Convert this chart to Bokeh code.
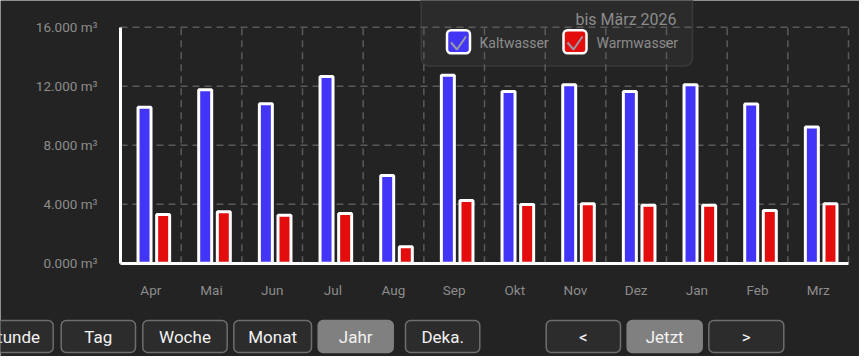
from bokeh.plotting import figure
from bokeh.models import Range1d, FixedTicker, ColumnDataSource
from bokeh.transform import dodge
from bokeh.core.properties import value
from bokeh.embed import file_html
from bokeh.resources import INLINE

# ---------------- data ----------------
months = ["Apr", "Mai", "Jun", "Jul", "Aug", "Sep", "Okt", "Nov", "Dez", "Jan", "Feb", "Mrz"]
kaltwasser = [10580, 11760, 10810, 12660, 5950, 12750, 11640, 12100, 11640, 12100, 10790, 9230]
warmwasser = [3300, 3490, 3250, 3370, 1110, 4250, 3980, 4030, 3930, 3930, 3570, 4030]
y_ticks = [0, 4000, 8000, 12000, 16000]
y_tick_labels = ["0.000 m³", "4.000 m³", "8.000 m³", "12.000 m³", "16.000 m³"]
series_names = ["Kaltwasser", "Warmwasser"]
legend_title = "bis März 2026"
buttons = ["Stunde", "Tag", "Woche", "Monat", "Jahr", "Deka.", "<", "Jetzt", ">"]
active_buttons = ["Jahr", "Jetzt"]

# ---------------- style / layout ----------------
BG = "#232323"
BLUE = "#4335f6"
RED = "#e30d0d"
GRID = "#5a5a5a"
LABEL = "#8c8c8c"
FONT = "Roboto"
W, H = 859, 356
N = len(months)
CAT_PX = 728 / N           # pixel width of one category
Y0_PX, Y16_PX = 262.7, 26.7  # pixel rows of 0 and 16000


def px_x(px):  # pixel column -> x data coordinate
    return (px - 120) / CAT_PX


def px_y(py):  # pixel row -> y data value
    return (Y0_PX - py) * y_ticks[-1] / (Y0_PX - Y16_PX)


x_pos = [i + 0.5 for i in range(N)]
src = ColumnDataSource(dict(x=x_pos, kalt=kaltwasser, warm=warmwasser))

p = figure(x_range=Range1d(px_x(0), px_x(W)), y_range=Range1d(px_y(H), px_y(0)),
           width=W, height=H, output_backend="svg", toolbar_location=None,
           min_border=0, background_fill_color=BG, border_fill_color=BG, outline_line_color=None)
p.grid.visible = False

# legend panel (behind grid)
p.quad(left=[px_x(420.7)], right=[px_x(692)], bottom=[px_y(65.5)], top=[px_y(-20)],
       fill_color="#2b2b2b", line_color="#3a3a3a", line_width=1.5, border_radius=8)

# grid lines
p.segment(x0=[0] * (len(y_ticks) - 1), x1=[N] * (len(y_ticks) - 1), y0=y_ticks[1:], y1=y_ticks[1:],
          line_color=GRID, line_width=1.5, line_dash="7 5")
p.segment(x0=list(range(1, N + 1)), x1=list(range(1, N + 1)), y0=[0] * N, y1=[y_ticks[-1]] * N,
          line_color=GRID, line_width=1.5, line_dash="7 5")

# bars
p.vbar(x=dodge("x", -0.104), top="kalt", width=0.214, source=src,
       fill_color=BLUE, line_color="white", line_width=3)
p.vbar(x=dodge("x", 0.203), top="warm", width=0.214, source=src,
       fill_color=RED, line_color="white", line_width=3)

# legend items
p.rect(x=[px_x(458), px_x(574.5)], y=[px_y(41.2)] * 2, width=23, height=23,
       width_units="screen", height_units="screen", fill_color=[BLUE, RED],
       line_color="white", line_width=2.5, border_radius=4)
p.multi_line(xs=[[px_x(450.5), px_x(456.5), px_x(465.5)], [px_x(567), px_x(573), px_x(582)]],
             ys=[[px_y(42), px_y(49), px_y(36)]] * 2, line_color="#9a9aa6", line_width=2)
p.text(x=[px_x(479), px_x(596)], y=[px_y(42)] * 2, text=series_names,
       text_font=value(FONT), text_font_size="14px", text_color=LABEL,
       text_baseline="middle", text_align="left")
p.text(x=[px_x(676)], y=[px_y(18.5)], text=[legend_title],
       text_font=value(FONT), text_font_size="16px", text_color=LABEL,
       text_baseline="alphabetic", text_align="right")

# axes (fixed inside the frame)
p.xaxis.ticker = FixedTicker(ticks=x_pos)
p.xaxis.major_label_overrides = dict(zip(x_pos, months))
p.xaxis.fixed_location = 0
p.xaxis.bounds = (0, N)
p.xaxis.major_label_standoff = 19
p.yaxis.ticker = FixedTicker(ticks=y_ticks)
p.yaxis.major_label_overrides = dict(zip(y_ticks, y_tick_labels))
p.yaxis.fixed_location = 0
p.yaxis.bounds = (0, y_ticks[-1])
p.yaxis.major_label_standoff = 23
for ax in (p.xaxis, p.yaxis):
    ax.axis_line_color = "white"
    ax.axis_line_width = 3
    ax.major_tick_line_color = None
    ax.minor_tick_line_color = None
    ax.major_tick_out = 0
    ax.major_tick_in = 0
    ax.major_label_text_font = FONT
    ax.major_label_text_font_size = "13.5px"
    ax.major_label_text_color = LABEL

# ---------------- button row ----------------
btn_left = [-26.7, 60.7, 142.3, 233.3, 317.7, 405, 545.7, 626.7, 708.3]
btn_right = [52.7, 135, 226.7, 311, 392.7, 479.3, 620, 701.7, 783.3]
active = [t in active_buttons for t in buttons]
nb = len(buttons)
p.quad(left=[px_x(v) for v in btn_left], right=[px_x(v) for v in btn_right],
       top=[px_y(320)] * nb, bottom=[px_y(352)] * nb,
       fill_color=["#808080" if a else "#2c2c2c" for a in active],
       line_color=["#808080" if a else "#6e6e6e" for a in active],
       line_width=1.5, border_radius=5)
p.text(x=[px_x((l + r) / 2) for l, r in zip(btn_left, btn_right)], y=[px_y(336)] * nb, text=buttons,
       text_font=value(FONT), text_font_size="17px", text_color="#f2f2f2",
       text_align="center", text_baseline="middle")

open("out.html", "w").write(file_html(p, INLINE))
